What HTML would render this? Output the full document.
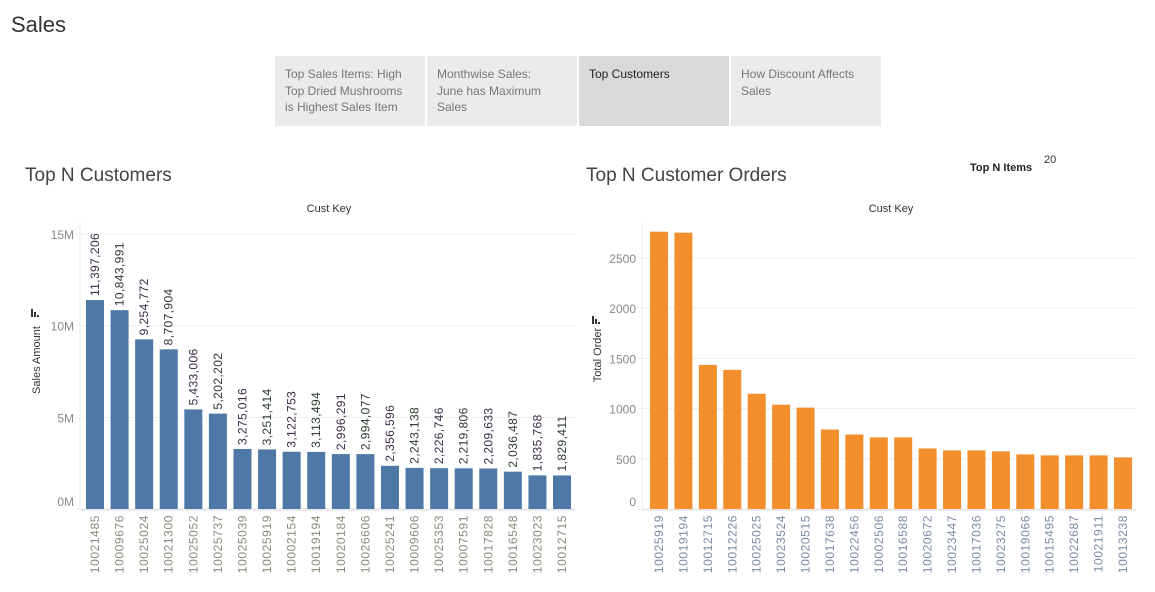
<!DOCTYPE html>
<html><head><meta charset="utf-8"><style>
body{margin:0;width:1155px;height:592px;background:#fff;font-family:"Liberation Sans",sans-serif;position:relative;overflow:hidden}
.t{position:absolute}
.tab{position:absolute;top:56px;width:150px;height:70px;background:#ebebeb;font-size:12px;color:#777;line-height:16.5px;padding:10px 10px;box-sizing:border-box;white-space:nowrap}
</style></head><body>
<div class="t" style="left:11px;top:12px;font-size:22px;color:#333">Sales</div>
<div class="tab" style="left:275px">Top Sales Items: High<br>Top Dried Mushrooms<br>is Highest Sales Item</div>
<div class="tab" style="left:427px">Monthwise Sales:<br>June has Maximum<br>Sales</div>
<div class="tab" style="left:579px;background:#d9d9d9;color:#222">Top Customers</div>
<div class="tab" style="left:731px">How Discount Affects<br>Sales</div>
<div class="t" style="left:25px;top:165px;font-size:19px;color:#444">Top N Customers</div>
<div class="t" style="left:586px;top:165px;font-size:19px;color:#444">Top N Customer Orders</div>
<div class="t" style="left:970px;top:162px;font-size:11px;color:#222;font-weight:bold">Top N Items</div>
<div class="t" style="left:1044px;top:154px;font-size:11px;color:#333">20</div>
<svg id="c" width="1155" height="592" style="position:absolute;left:0;top:0"></svg>
<script>
const cust1=["10021485","10009676","10025024","10021300","10025052","10025737","10025039","10025919","10002154","10019194","10020184","10026606","10025241","10009606","10025353","10007591","10017828","10016548","10023023","10012715"];
const sales=[11397206,10843991,9254772,8707904,5433006,5202202,3275016,3251414,3122753,3113494,2996291,2994077,2356596,2243138,2226746,2219806,2209633,2036487,1835768,1829411];
const salesTicks=[0,5000000,10000000,15000000];
const salesTickLabels=["0M","5M","10M","15M"];
const cust2=["10025919","10019194","10012715","10012226","10025025","10023524","10020515","10017638","10022456","10002506","10016588","10020672","10023447","10017036","10023275","10019066","10015495","10022687","10021911","10013238"];
const orders=[2762,2752,1435,1386,1148,1039,1010,792,742,713,713,603,584,584,574,544,534,534,534,514];
const orderTicks=[0,500,1000,1500,2000,2500];
const NS="http://www.w3.org/2000/svg";
const svg=document.getElementById('c');
function mk(tag,a,txt){const e=document.createElementNS(NS,tag);for(const k in a)e.setAttribute(k,a[k]);if(txt!==undefined)e.textContent=txt;svg.appendChild(e);return e;}
function fmt(v){return v.toLocaleString('en-US');}
function chart(o){
  const y0=509,ytop=o.ytop;
  const ys=v=>y0-(v/o.max)*(y0-ytop);
  const xs=i=>o.x0+i*o.pitch;
  let e=mk('line',{x1:o.axisX,y1:222,x2:o.axisX,y2:510,stroke:'#eee'});
  
  o.ticks.forEach((t,i)=>{
    e=mk('line',{x1:o.axisX-4,x2:o.x1,y1:ys(t),y2:ys(t),stroke:'#efefef'});
    
    e=mk('text',{x:o.axisX-6,y:ys(t)+(t===0?-3:5),'text-anchor':'end','font-size':12,fill:'#888'},o.tl[i]);
    
  });
  e=mk('line',{x1:o.axisX,x2:o.x1,y1:510,y2:510,stroke:'#ddd'});
  
  o.vals.forEach((v,i)=>{
    const x=xs(i),y=ys(v);
    e=mk('rect',{x:x,y:y,width:18,height:y0-y,fill:o.color});
    
    if(o.labels){
      e=mk('text',{transform:`translate(${x+13},${y-4}) rotate(-90)`,'font-size':12,'letter-spacing':'0.4',fill:i%2?'#2d3a2d':'#3a2a45'},fmt(v));
      
    }
    e=mk('text',{transform:`translate(${x+13},${515}) rotate(-90)`,'text-anchor':'end','font-size':12,'letter-spacing':'0.6',fill:o.catColor},o.cats[i]);
    
  });
  e=mk('text',{x:o.titleX,y:212,'text-anchor':'middle','font-size':11,fill:'#333'},'Cust Key');
  
  e=mk('text',{transform:`translate(${o.yTitleX},${o.yTitleY}) rotate(-90)`,'text-anchor':'middle','font-size':11,fill:'#333'},o.yTitle);
  
  const g=mk('g',{transform:`translate(${o.yTitleX-9},${o.sortY})`});
  
  [[0,0,2,8],[3,3,2,5],[6,6,2,2]].forEach(r=>{const q=document.createElementNS(NS,'rect');q.setAttribute('x',r[0]);q.setAttribute('y',r[1]);q.setAttribute('width',r[2]);q.setAttribute('height',r[3]);q.setAttribute('fill','#333');g.appendChild(q);});
}
chart({p:'sales',vals:sales,cats:cust1,ticks:salesTicks,tl:salesTickLabels,max:15000000,ytop:234,x0:86,pitch:24.58,axisX:80,x1:575,color:'#4e79a7',labels:true,catColor:'#8a8a7a',titleX:329,yTitle:'Sales Amount',yTitleX:40,yTitleY:360,sortY:309});
chart({p:'orders',vals:orders,cats:cust2,ticks:orderTicks,tl:orderTicks.map(String),max:2500,ytop:258,x0:650,pitch:24.42,axisX:642,x1:1136,color:'#f28e2b',labels:false,catColor:'#7a8aa5',titleX:891,yTitle:'Total Order',yTitleX:601,yTitleY:355,sortY:316});
</script>
</body></html>
